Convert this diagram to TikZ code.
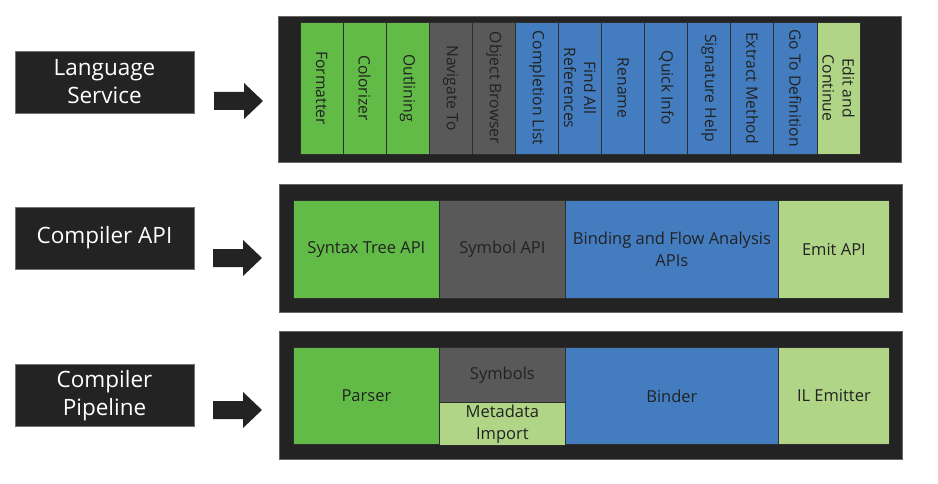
\documentclass[tikz,border=0pt]{standalone}
\usepackage{fontspec}
\setmainfont{Open Sans}
\usetikzlibrary{positioning}

\definecolor{rgreen}{HTML}{62BB47}
\definecolor{rgray}{HTML}{595959}
\definecolor{rblue}{HTML}{437DC0}
\definecolor{rlight}{HTML}{B0D586}
\definecolor{panelblack}{HTML}{232323}
\definecolor{cellline}{HTML}{2E2E2E}
\definecolor{celltext}{HTML}{222222}

\tikzset{
  panel/.style = {fill = panelblack, draw = black!60, line width = 0.8pt,
    inner sep = 0pt, anchor = north west},
  cell/.style = {draw = cellline, line width = 0.8pt, inner sep = 0pt,
    text = celltext, align = center, anchor = north west,
    font = \fontsize{16.5}{22}\selectfont},
  lsbar/.style = {cell, anchor = center, rotate = -90,
    minimum width = 132pt, minimum height = 43.08pt,
    font = \fontsize{15.7}{20}\selectfont},
  layer/.style = {fill = panelblack, draw = black!55, line width = 0.8pt,
    text = white, inner sep = 0pt, align = center,
    font = \fontsize{22.5}{28}\selectfont,
    minimum width = 179pt, minimum height = 62pt},
  blockarrow/.style = {fill = panelblack}
}

\begin{document}
\begin{tikzpicture}[x = 1pt, y = -1pt]
    \useasboundingbox (0, 0) rectangle (938, 484);

    % layer names
    \node[layer] (lang) at (104.5, 82) {Language\\Service};
    \node[layer] (capi) at (104.5, 238) {Compiler API};
    \node[layer] (pipe) at (104.5, 395.5) {Compiler\\Pipeline};

    % block arrows
    \coordinate (A1) at (214, 83);
    \coordinate (A2) at (213, 240);
    \coordinate (A3) at (213, 392);
    \foreach \a in {A1, A2, A3}
      \fill[blockarrow] ([yshift = -9pt]\a) -- ++(30, 0) -- ++(0, -9)
        -- ++(19, 18) -- ++(-19, 18) -- ++(0, -9) -- ++(-30, 0) -- cycle;

    % panels
    \node[panel, minimum width = 623pt, minimum height = 146pt] (lspanel) at (278, 16) {};
    \node[panel, minimum width = 623pt, minimum height = 128pt] (apipanel) at (279, 184) {};
    \node[panel, minimum width = 623pt, minimum height = 128pt] (pipepanel) at (279, 331) {};

    % language service features
    \foreach \i/\txt/\col in {0/Formatter/rgreen, 1/Colorizer/rgreen,
        2/Outlining/rgreen, 3/Navigate To/rgray, 4/Object Browser/rgray,
        5/Completion List/rblue, 6/{Find All\\References}/rblue,
        7/Rename/rblue, 8/Quick Info/rblue, 9/Signature Help/rblue,
        10/Extract Method/rblue, 11/Go To Definition/rblue,
        12/{Edit and\\Continue}/rlight}
      \node[lsbar, fill = \col] (ls\i) at (300 + 43.08 * \i + 21.54, 88) {\txt};

    % compiler API
    \node[cell, fill = rgreen, minimum width = 146pt, minimum height = 98pt] (syntaxapi) at (293, 200) {Syntax Tree API};
    \node[cell, fill = rgray, minimum width = 126pt, minimum height = 98pt] (symbolapi) at (439, 200) {Symbol API};
    \node[cell, fill = rblue, minimum width = 213pt, minimum height = 98pt] (bindapi) at (565, 200) {Binding and Flow Analysis\\APIs};
    \node[cell, fill = rlight, minimum width = 111pt, minimum height = 98pt] (emitapi) at (778, 200) {Emit API};

    % compiler pipeline
    \node[cell, fill = rgreen, minimum width = 146pt, minimum height = 97pt] (parser) at (293, 347) {Parser};
    \node[cell, fill = rgray, minimum width = 126pt, minimum height = 55pt] (symbols) at (439, 347) {Symbols};
    \node[cell, fill = rlight, minimum width = 126pt, minimum height = 43pt] (metadata) at (439, 402) {Metadata\\Import};
    \node[cell, fill = rblue, minimum width = 213pt, minimum height = 97pt] (binder) at (565, 347) {Binder};
    \node[cell, fill = rlight, minimum width = 111pt, minimum height = 97pt] (ilemit) at (778, 347) {IL Emitter};
  \end{tikzpicture}
\end{document}
